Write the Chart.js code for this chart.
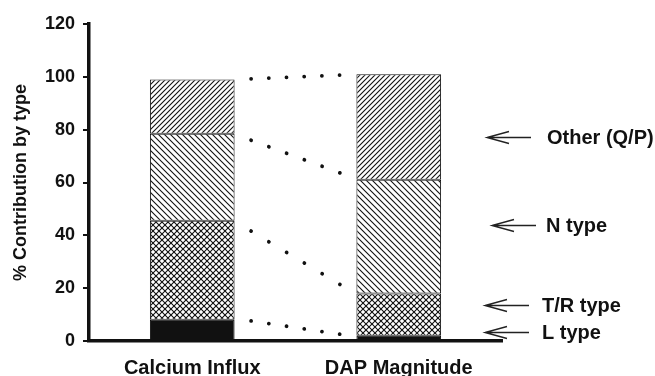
<!DOCTYPE html>
<html><head><meta charset="utf-8">
<script src="https://cdn.jsdelivr.net/npm/chart.js@4/dist/chart.umd.min.js"></script>
<style>html,body{margin:0;padding:0;background:#fff}#wrap{width:655px;height:376px}</style>
</head><body><div id="wrap"><canvas id="c" width="655" height="376"></canvas></div>
<script>
// ---- data ----
const categories = ['Calcium Influx', 'DAP Magnitude'];
const lType = [8, 2];
const trType = [37.5, 16];
const nType = [33, 43];
const otherType = [20.5, 40];
const yTicks = [0, 20, 40, 60, 80, 100, 120];
// dotted connectors between the bars: [start, end]
const connectorX = [0.285, 0.72];
const connTop = [99.2, 100.7];
const connN = [76.0, 63.5];
const connTR = [41.6, 21.2];
const connL = [7.6, 2.5];
const annotationLabels = ['Other (Q/P)', 'N type', 'T/R type', 'L type'];
const annotationValues = [77.2, 43.9, 13.6, 3.4];

// ---- patterns ----
const mainCtx = document.getElementById('c').getContext('2d');
function makePattern(size, draw) {
  const c = document.createElement('canvas'); c.width = size; c.height = size;
  const g = c.getContext('2d');
  g.fillStyle = '#fff'; g.fillRect(0, 0, size, size);
  g.strokeStyle = '#111'; g.lineWidth = 1.1;
  draw(g, size);
  return mainCtx.createPattern(c, 'repeat');
}
function fwd(g, s) { g.beginPath(); g.moveTo(-2, s + 2); g.lineTo(s + 2, -2); g.moveTo(-2, 2); g.lineTo(2, -2); g.moveTo(s - 2, s + 2); g.lineTo(s + 2, s - 2); g.stroke(); }
function back(g, s) { g.beginPath(); g.moveTo(-2, -2); g.lineTo(s + 2, s + 2); g.moveTo(s - 2, -2); g.lineTo(s + 2, 2); g.moveTo(-2, s - 2); g.lineTo(2, s + 2); g.stroke(); }
const patOther = makePattern(5, fwd);
const patN = makePattern(6, back);
const patTR = makePattern(6, (g, s) => { fwd(g, s); back(g, s); });

function connector(vals, gap) {
  return {
    type: 'line', xAxisID: 'x2', yAxisID: 'y2',
    data: [{ x: connectorX[0], y: vals[0] }, { x: connectorX[1], y: vals[1] }],
    borderColor: '#111', borderWidth: 3.8, borderDash: [0.01, gap], borderCapStyle: 'round',
    pointRadius: 0, fill: false, tension: 0
  };
}

const annotPlugin = {
  id: 'annot',
  afterDraw(chart) {
    const { ctx, chartArea, scales } = chart;
    const tipShift = [2, 7, 0, 0];
    const textShift = [45, 44, 40, 40];
    ctx.save();
    ctx.strokeStyle = '#222'; ctx.fillStyle = '#111';
    ctx.font = 'bold 20px "Liberation Sans", Arial, sans-serif';
    ctx.textBaseline = 'middle'; ctx.textAlign = 'left';
    annotationLabels.forEach((lab, i) => {
      const y = Math.round(scales.y.getPixelForValue(annotationValues[i])) + 0.5;
      const tip = chartArea.right - 17 + tipShift[i];
      const end = tip + 44;
      ctx.lineWidth = 1.4;
      ctx.beginPath();
      ctx.moveTo(end, y); ctx.lineTo(tip, y);
      ctx.moveTo(tip + 22, y - 6); ctx.lineTo(tip, y); ctx.lineTo(tip + 22, y + 6);
      ctx.stroke();
      ctx.fillText(lab, chartArea.right + textShift[i], y + 1);
    });
    ctx.restore();
  }
};

const barCommon = { borderColor: '#111', borderWidth: 1, borderSkipped: false, categoryPercentage: 1, barPercentage: 0.41, grouped: false };

new Chart(document.getElementById('c'), {
  type: 'bar',
  data: {
    labels: categories,
    datasets: [
      Object.assign({ label: 'L type', data: lType, backgroundColor: '#111' }, barCommon),
      Object.assign({ label: 'T/R type', data: trType, backgroundColor: patTR }, barCommon),
      Object.assign({ label: 'N type', data: nType, backgroundColor: patN }, barCommon),
      Object.assign({ label: 'Other (Q/P)', data: otherType, backgroundColor: patOther }, barCommon),
      connector(connTop, 17.7),
      connector(connN, 18.9),
      connector(connTR, 20.7),
      connector(connL, 17.9)
    ]
  },
  options: {
    responsive: false, animation: false, devicePixelRatio: 1,
    layout: { padding: { top: 24, right: 153, left: 0, bottom: 0 } },
    plugins: { legend: { display: false }, tooltip: { enabled: false } },
    scales: {
      x: {
        stacked: true,
        grid: { display: false, drawTicks: false },
        border: { display: true, color: '#111', width: 3.5 },
        ticks: { color: '#111', padding: 15, font: { family: '"Liberation Sans", Arial, sans-serif', size: 20, weight: 'bold' } },
        afterFit(s) { s.height = 35; }
      },
      x2: { type: 'linear', display: false, offset: false, min: -0.5, max: 1.5, grid: { offset: false } },
      y: {
        stacked: true, min: 0, max: 120,
        afterBuildTicks(s) { s.ticks = yTicks.map(v => ({ value: v })); },
        grid: { display: true, drawOnChartArea: false, drawTicks: true, tickLength: 6, color: '#111', lineWidth: 2 },
        border: { display: true, color: '#111', width: 3.5 },
        ticks: { color: '#111', padding: 8, font: { family: '"Liberation Sans", Arial, sans-serif', size: 18, weight: 'bold' } },
        title: { display: true, text: '% Contribution by type', color: '#111', padding: { top: 10, bottom: 0 }, font: { family: '"Liberation Sans", Arial, sans-serif', size: 18, weight: 'bold' } },
        afterFit(s) { s.width = 89; }
      },
      y2: { type: 'linear', display: false, stacked: false, min: 0, max: 120 }
    }
  },
  plugins: [annotPlugin]
});
</script>
</body></html>
